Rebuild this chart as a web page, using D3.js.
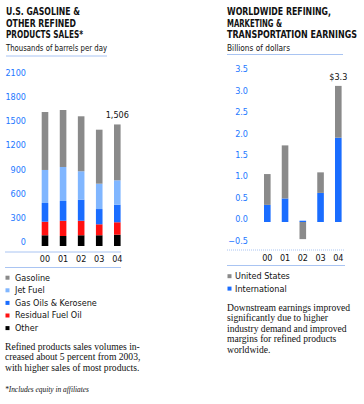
<!DOCTYPE html>
<html lang="en">
<head>
<meta charset="UTF-8">
<title>refined products</title>
<script src="https://cdn.jsdelivr.net/npm/d3@7"></script>
<style>
    body{ margin:0; background:#fff; }
    .sans{ font-family:"DejaVu Sans Condensed","DejaVu Sans",sans-serif; font-stretch:condensed; }
    .serif{ font-family:"Liberation Serif","Times New Roman",serif; }
</style>
</head>
<body>
<svg id="fig" width="364" height="404"></svg>
<script>
    // data
    let years = ["00", "01", "02", "03", "04"];
    // U.S. refined products sales, thousands of barrels per day
    let other    = [133, 124, 133, 133, 140];
    let residual = [168, 189, 180, 136, 154];
    let gasOils  = [232, 245, 261, 189, 218];
    let jetFuel  = [409, 421, 352, 314, 302];
    let gasoline = [718, 706, 681, 669, 692];
    let salesTicks = [0, 300, 600, 900, 1200, 1500, 1800, 2100];
    // earnings, billions of dollars
    let intl = [0.40, 0.55, 0.03, 0.68, 1.97];
    let us   = [0.72, 1.24, -0.40, 0.48, 1.21];
    let earnTicks = [-0.5, 0, 0.5, 1, 1.5, 2, 2.5, 3, 3.5];
    let earnLabel = "$3.3";

    let GRAY = "#8a8a8a", LBLUE = "#80b6ff", BLUE = "#1a6dff", RED = "#ff1111", BLACK = "#000";
    let TICKBLUE = "#2277ff", RULE = "#a9c4f2";

    let svg = d3.select("#fig");

    // title lines: [text, width]
    function title(x, lines, sub){
        lines.forEach((l,i) => svg.append("text").attr("class","sans")
            .attr("x", x).attr("y", 15 + i*11.6)
            .attr("font-size", 11).attr("font-weight","bold").attr("fill","#111")
            .attr("textLength", l[1]).attr("lengthAdjust","spacingAndGlyphs")
            .text(l[0]));
        svg.append("text").attr("class","sans").attr("x", x).attr("y", 50.5)
            .attr("font-size", 9).attr("fill","#111")
            .attr("textLength", sub[1]).attr("lengthAdjust","spacingAndGlyphs")
            .text(sub[0]);
    }

    // ---------- left chart ----------
    title(6, [["U.S. GASOLINE &",74], ["OTHER REFINED",70], ["PRODUCTS SALES*",77]],
        ["Thousands of barrels per day",101]);
    svg.append("line").attr("x1",6).attr("x2",107).attr("y1",56).attr("y2",56)
        .attr("stroke",RULE).attr("stroke-width",1);

    let yL = d3.scaleLinear().domain([0,2100]).range([246, 76.5]);
    let xL = d3.scalePoint().domain(years).range([45, 117.3]);
    let bw = 6.6;

    svg.append("g").selectAll("text").data(salesTicks).join("text")
        .attr("class","sans").attr("x",26).attr("y", d => yL(d) - 4)
        .attr("dy","0.35em").attr("text-anchor","end")
        .attr("font-size",9).attr("fill",TICKBLUE).text(d => d);

    let layers = [
        {vals: other, color: BLACK},
        {vals: residual, color: RED},
        {vals: gasOils, color: BLUE},
        {vals: jetFuel, color: LBLUE},
        {vals: gasoline, color: GRAY}
    ];
    let base = years.map(() => 0);
    layers.forEach(l => {
        let g = svg.append("g");
        years.forEach((yr,i) => {
            let y0 = base[i], y1 = base[i] + l.vals[i];
            g.append("rect").attr("x", xL(yr) - bw/2).attr("width", bw)
                .attr("y", yL(y1)).attr("height", yL(y0) - yL(y1))
                .attr("fill", l.color);
            base[i] = y1;
        });
    });
    svg.append("text").attr("class","sans").attr("x", xL("04")).attr("y", yL(base[4]) - 6)
        .attr("text-anchor","middle").attr("font-size",9).attr("fill","#111")
        .text(d3.format(",")(base[4]));

    [252, 267.5].forEach(y => svg.append("line").attr("x1",5).attr("x2",121)
        .attr("y1",y).attr("y2",y).attr("stroke",RULE).attr("stroke-width",1));
    svg.append("g").selectAll("text").data(years).join("text")
        .attr("class","sans").attr("x", d => xL(d)).attr("y", 262)
        .attr("text-anchor","middle").attr("font-size",9).attr("fill","#111").text(d => d);

    let legL = [["Gasoline",GRAY],["Jet Fuel",LBLUE],["Gas Oils & Kerosene",BLUE],["Residual Fuel Oil",RED],["Other",BLACK]];
    legL.forEach((d,i) => {
        let cy = 277.5 + i*12.6;
        svg.append("rect").attr("x",5.5).attr("y",cy-1.8).attr("width",4).attr("height",4).attr("fill",d[1]);
        svg.append("text").attr("class","sans").attr("x",15).attr("y",cy).attr("dy","0.35em")
            .attr("font-size",9).attr("fill","#111").text(d[0]);
    });

    let noteL = ["Refined products sales volumes in-", "creased about 5 percent from 2003,", "with higher sales of most products."];
    noteL.forEach((l,i) => svg.append("text").attr("class","serif").attr("x",5).attr("y",350 + i*10.4)
        .attr("font-size",9.6).attr("fill","#111").text(l));
    svg.append("text").attr("class","serif").attr("x",5).attr("y",391.5)
        .attr("font-size",7.4).attr("font-style","italic").attr("fill","#111")
        .text("*Includes equity in affiliates");

    // ---------- right chart ----------
    title(227, [["WORLDWIDE REFINING,",104], ["MARKETING &",55], ["TRANSPORTATION EARNINGS",130]],
        ["Billions of dollars",63]);
    svg.append("line").attr("x1",227).attr("x2",343).attr("y1",54.5).attr("y2",54.5)
        .attr("stroke",RULE).attr("stroke-width",1);

    let yR = d3.scaleLinear().domain([-0.5,3.5]).range([243.4, 72.2]);
    let xR = d3.scalePoint().domain(years).range([267.3, 338.3]);

    svg.append("g").selectAll("text").data(earnTicks).join("text")
        .attr("class","sans").attr("x",248).attr("y", d => yR(d) - 3)
        .attr("dy","0.35em").attr("text-anchor","end")
        .attr("font-size",9).attr("fill",TICKBLUE).text(d => d3.format(".1f")(d));

    years.forEach((yr,i) => {
        // international from zero, US stacked on it (negative goes down from zero)
        let a = intl[i];
        svg.append("rect").attr("x", xR(yr) - bw/2).attr("width", bw)
            .attr("y", yR(Math.max(0,a))).attr("height", Math.abs(yR(0) - yR(a)))
            .attr("fill", BLUE);
        let s0 = us[i] >= 0 ? a : 0, s1 = s0 + us[i];
        svg.append("rect").attr("x", xR(yr) - bw/2).attr("width", bw)
            .attr("y", yR(Math.max(s0,s1))).attr("height", Math.abs(yR(s0) - yR(s1)))
            .attr("fill", GRAY);
    });
    let tot = intl[4] + us[4];
    svg.append("text").attr("class","sans").attr("x", xR("04")).attr("y", yR(tot) - 6)
        .attr("text-anchor","middle").attr("font-size",9).attr("fill","#111")
        .text(earnLabel);

    svg.append("line").attr("x1",227).attr("x2",345).attr("y1",250).attr("y2",250)
        .attr("stroke",RULE).attr("stroke-width",1).attr("stroke-dasharray","1,1");
    svg.append("line").attr("x1",227).attr("x2",345).attr("y1",265.5).attr("y2",265.5)
        .attr("stroke",RULE).attr("stroke-width",1);
    svg.append("g").selectAll("text").data(years).join("text")
        .attr("class","sans").attr("x", d => xR(d)).attr("y", 261)
        .attr("text-anchor","middle").attr("font-size",9).attr("fill","#111").text(d => d);

    let legR = [["United States",GRAY],["International",BLUE]];
    legR.forEach((d,i) => {
        let cy = 276 + i*12.4;
        svg.append("rect").attr("x",227.5).attr("y",cy-1.8).attr("width",4).attr("height",4).attr("fill",d[1]);
        svg.append("text").attr("class","sans").attr("x",235).attr("y",cy).attr("dy","0.35em")
            .attr("font-size",9).attr("fill","#111").text(d[0]);
    });

    let noteR = ["Downstream earnings improved", "significantly due to higher", "industry demand and improved", "margins for refined products", "worldwide."];
    noteR.forEach((l,i) => svg.append("text").attr("class","serif").attr("x",227).attr("y",310.5 + i*10.5)
        .attr("font-size",9.6).attr("fill","#111").text(l));
</script>
</body>
</html>
